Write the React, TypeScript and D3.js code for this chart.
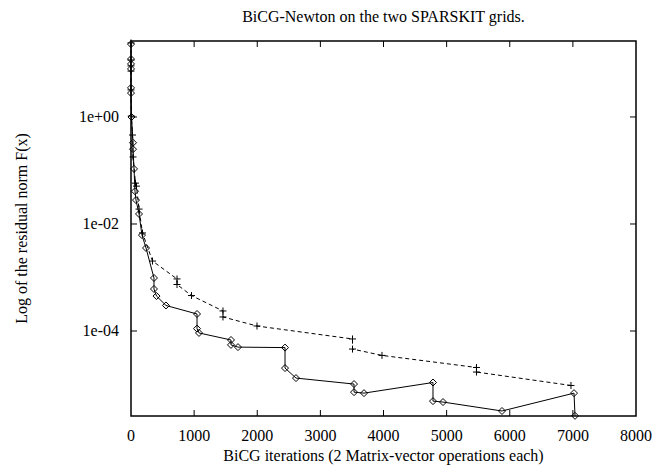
import * as d3 from "d3";

// solid series (diamonds)
const iterA = [0, 0, 0, 0, 0, 0, 8, 32, 32, 48, 63, 79, 127, 174, 238, 364, 364, 404, 554, 1046, 1046, 1077, 1584, 1584, 1695, 2440, 2440, 2614, 3533, 3533, 3691, 4784, 4784, 4943, 5877, 7018, 7034];
const residA = [23, 12.1, 9.8, 7.9, 3.5, 2.8, 1.0, 0.33, 0.25, 0.107, 0.041, 0.028, 0.0154, 0.0062, 0.00356, 0.00098, 0.00061, 0.00045, 0.0003, 0.000208, 0.000111, 9.2e-5, 6.8e-5, 5.5e-5, 5.0e-5, 4.9e-5, 2.03e-5, 1.32e-5, 1.02e-5, 7.2e-6, 6.9e-6, 1.09e-5, 4.9e-6, 4.7e-6, 3.2e-6, 6.9e-6, 2.6e-6];

// dashed series (plus marks)
const iterB = [0, 0, 0, 0, 0, 5, 24, 32, 71, 87, 127, 182, 341, 729, 729, 958, 1457, 1457, 1996, 3509, 3509, 3976, 5473, 5473, 6970];
const residB = [24.2, 11.6, 9.0, 7.2, 3.2, 1.04, 0.46, 0.179, 0.058, 0.051, 0.019, 0.0068, 0.00203, 0.00094, 0.00074, 0.00046, 0.000237, 0.000183, 0.000124, 7.1e-5, 4.6e-5, 3.5e-5, 2.08e-5, 1.71e-5, 9.6e-6];

const xTicks = [0, 1000, 2000, 3000, 4000, 5000, 6000, 7000, 8000];
const yTicks = [1, 1e-2, 1e-4];
const yTickLabels = ["1e+00", "1e-02", "1e-04"];

const width = 658;
const height = 474;
const marginLeft = 131;
const marginRight = 22;
const marginTop = 41;
const marginBottom = 58;
const font = '"Liberation Serif"';

const App = () => {
  const x = d3.scaleLinear().domain([0, 8000]).range([marginLeft, width - marginRight]);
  const y = d3
    .scaleLog()
    .domain([2.58e-6, 26.3])
    .range([height - marginBottom, marginTop]);

  const ptsA = iterA.map((d, i) => [x(d), y(residA[i])] as [number, number]);
  const ptsB = iterB.map((d, i) => [x(d), y(residB[i])] as [number, number]);
  const line = d3.line();

  const left = marginLeft;
  const right = width - marginRight;
  const top = marginTop;
  const bottom = height - marginBottom;
  const tick = 6;
  const s = 3.5;
  const txt = { fontFamily: font };

  return (
    <svg width={width} height={height} style={{ position: "absolute", left: 0, top: 0, background: "#fff" }}>
      <text x={(left + right) / 2} y={22} textAnchor="middle" fontSize={16} style={txt}>
        BiCG-Newton on the two SPARSKIT grids.
      </text>

      {/* ticks, all four sides */}
      <g stroke="#000" strokeWidth={1}>
        {xTicks.slice(1, -1).map((t) => (
          <g key={t}>
            <line x1={x(t)} x2={x(t)} y1={bottom} y2={bottom - tick} />
            <line x1={x(t)} x2={x(t)} y1={top} y2={top + tick} />
          </g>
        ))}
        {yTicks.map((t) => (
          <g key={t}>
            <line x1={left} x2={left + tick} y1={y(t)} y2={y(t)} />
            <line x1={right} x2={right - tick} y1={y(t)} y2={y(t)} />
          </g>
        ))}
      </g>

      {xTicks.map((t) => (
        <text key={t} x={x(t)} y={bottom + 25} textAnchor="middle" fontSize={16} style={txt}>
          {t}
        </text>
      ))}
      {yTicks.map((t, i) => (
        <text key={t} x={left - 12} y={y(t) + 5} textAnchor="end" fontSize={16} style={txt}>
          {yTickLabels[i]}
        </text>
      ))}

      <text x={(left + right) / 2} y={bottom + 45} textAnchor="middle" fontSize={16} style={txt}>
        BiCG iterations (2 Matrix-vector operations each)
      </text>
      <text
        transform={`translate(27,${(top + bottom) / 2}) rotate(-90)`}
        textAnchor="middle"
        fontSize={16}
        style={txt}
      >
        Log of the residual norm F(x)
      </text>

      {/* dashed series */}
      <path d={line(ptsB) ?? ""} fill="none" stroke="#000" strokeWidth={1} strokeDasharray="4,3" />
      <g stroke="#000" strokeWidth={1}>
        {ptsB.map(([px, py], i) => (
          <path key={i} d={`M${px - s},${py}H${px + s}M${px},${py - s}V${py + s}`} />
        ))}
      </g>

      {/* solid series */}
      <path d={line(ptsA) ?? ""} fill="none" stroke="#000" strokeWidth={1} />
      <g stroke="#000" strokeWidth={1} fill="none">
        {ptsA.map(([px, py], i) => (
          <path key={i} d={`M${px},${py - s}L${px + s},${py}L${px},${py + s}L${px - s},${py}Z`} />
        ))}
      </g>

      <rect
        x={left}
        y={top}
        width={right - left}
        height={bottom - top}
        fill="none"
        stroke="#000"
        strokeWidth={1.5}
      />
    </svg>
  );
};

export default App;
